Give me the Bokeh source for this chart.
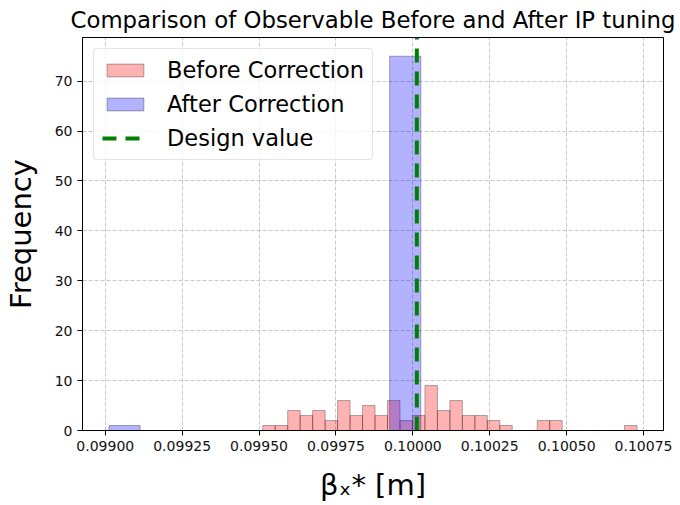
import numpy as np
from bokeh.plotting import figure
from bokeh.models import Range1d, FixedTicker, Legend, LegendItem, ColumnDataSource
from bokeh.embed import file_html
from bokeh.resources import INLINE

# ---------------- data ----------------
before_counts = [1, 1, 4, 3, 4, 2, 6, 3, 5, 3, 6, 2, 3, 9, 4, 6, 3, 3, 2, 1,
                 0, 0, 2, 2, 0, 0, 0, 0, 0, 1]
before_min = 0.099512
before_max = 0.100729

after_counts = [1, 0, 0, 0, 0, 0, 0, 0, 0, 75]
after_min = 0.099012
after_max = 0.100026

design_value = 0.100013

x_ticks = [0.09900, 0.09925, 0.09950, 0.09975, 0.10000, 0.10025, 0.10050, 0.10075]
x_tick_labels = ["0.09900", "0.09925", "0.09950", "0.09975", "0.10000",
                 "0.10025", "0.10050", "0.10075"]
y_ticks = [0, 10, 20, 30, 40, 50, 60, 70]

# ---------------- figure ----------------
FONT = "DejaVu Sans"
x_lo, x_hi = 0.098926, 0.100815
y_lo, y_hi = 0.0, 78.75

W, H = 676, 504
FL, FR, FT, FB = 81, 663, 37, 430   # frame edges in page pixels

p = figure(width=W, height=H, output_backend="svg", toolbar_location=None,
           x_range=Range1d(x_lo, x_hi), y_range=Range1d(y_lo, y_hi),
           title="Comparison of Observable Before and After IP tuning",
           min_border_left=FL, min_border_right=W - FR, min_border_top=FT,
           min_border_bottom=H - FB)

p.title.text_font = FONT
p.title.text_font_size = "22.8px"
p.title.text_font_style = "normal"
p.title.align = "center"
p.title.standoff = 9
p.title.text_color = "#000000"

p.outline_line_color = "black"
p.outline_line_width = 1
p.outline_line_alpha = 1.0
p.background_fill_color = "white"
p.border_fill_color = "white"

def edges(lo, hi, n):
    e = np.linspace(lo, hi, n + 1)
    return e[:-1], e[1:]

bl, br = edges(before_min, before_max, len(before_counts))
al, ar = edges(after_min, after_max, len(after_counts))

src_b = ColumnDataSource(dict(left=bl, right=br, top=before_counts,
                              bottom=[0] * len(before_counts)))
src_a = ColumnDataSource(dict(left=al, right=ar, top=after_counts,
                              bottom=[0] * len(after_counts)))

r_b = p.quad(left="left", right="right", top="top", bottom="bottom", source=src_b,
             fill_color="red", fill_alpha=0.3, line_color="black", line_alpha=0.3,
             line_width=1)
r_a = p.quad(left="left", right="right", top="top", bottom="bottom", source=src_a,
             fill_color="blue", fill_alpha=0.3, line_color="black", line_alpha=0.3,
             line_width=1)

# design value: vertical line across the full y range
r_d = p.line(x=[design_value, design_value], y=[y_lo, y_hi], line_color="green",
             line_width=4, line_dash="14 9")

# ---------------- axes ----------------
p.xaxis.ticker = FixedTicker(ticks=x_ticks)
p.xaxis.major_label_overrides = {t: l for t, l in zip(x_ticks, x_tick_labels)}
p.yaxis.ticker = FixedTicker(ticks=y_ticks)
for ax in (p.xaxis, p.yaxis):
    ax.major_label_text_font = FONT
    ax.major_label_text_font_size = "14px"
    ax.major_label_text_color = "#111111"
    ax.major_tick_out = 5
    ax.major_tick_in = 0
    ax.minor_tick_out = 0
    ax.minor_tick_in = 0
    ax.axis_line_color = "black"
    ax.major_tick_line_color = "black"
    ax.major_label_standoff = 5
    ax.axis_label_text_font = FONT
    ax.axis_label_text_font_size = "29px"
    ax.axis_label_text_font_style = "normal"
    ax.axis_label_text_color = "#000000"

p.yaxis.axis_label = "Frequency"
p.yaxis.axis_label_standoff = 14
p.xaxis.axis_label = "β\u2093* [m]"
p.xaxis.axis_label_standoff = 14

p.grid.grid_line_color = "#b0b0b0"
p.grid.grid_line_alpha = 0.7
p.grid.grid_line_dash = "4 2"
p.grid.grid_line_width = 1

# ---------------- legend ----------------
legend = Legend(items=[LegendItem(label="Before Correction", renderers=[r_b]),
                       LegendItem(label="After Correction", renderers=[r_a]),
                       LegendItem(label="Design value", renderers=[r_d])],
                location="top_left")
legend.label_text_font = FONT
legend.label_text_font_size = "22.5px"
legend.label_text_color = "#000000"
legend.glyph_width = 46
legend.glyph_height = 16
legend.label_standoff = 19
legend.label_height = 25
legend.spacing = 8
legend.padding = 8
legend.margin = 11
legend.border_line_color = "#cccccc"
legend.border_line_width = 1
legend.background_fill_color = "white"
legend.background_fill_alpha = 0.8
if "border_radius" in Legend.properties():
    legend.border_radius = 4
p.add_layout(legend)

open("out.html", "w").write(file_html(p, INLINE))
